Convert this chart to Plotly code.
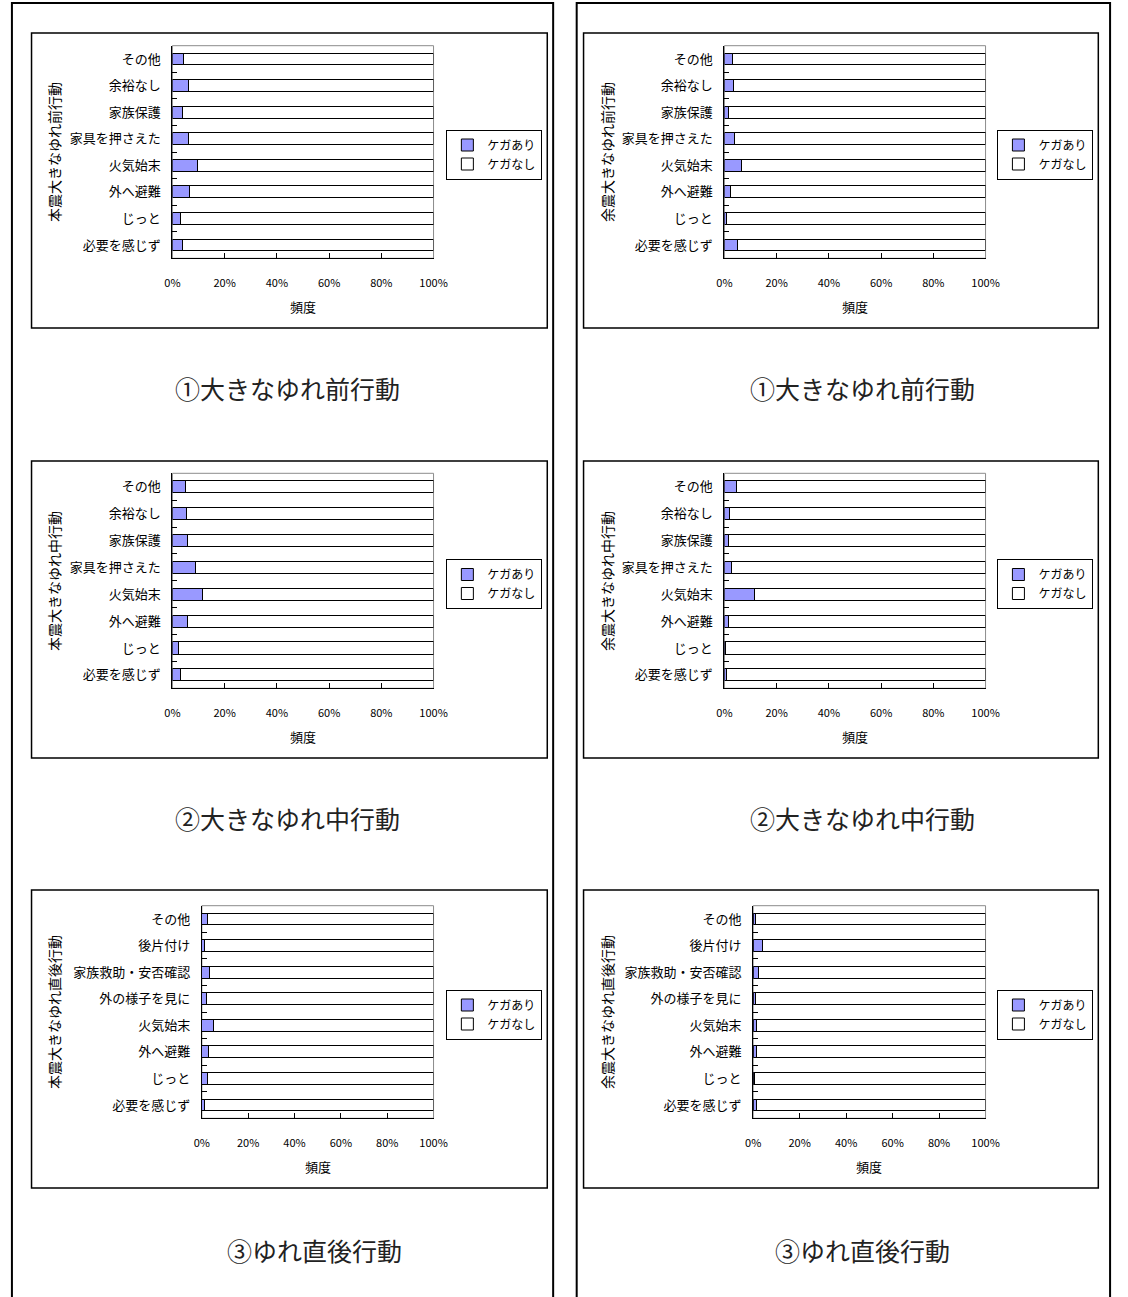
import plotly.graph_objects as go

W, H = 1128, 1297

# ---------------- data ----------------
cats_pre = ["その他", "余裕なし", "家族保護", "家具を押さえた", "火気始末", "外へ避難", "じっと", "必要を感じず"]
cats_mid = ["その他", "余裕なし", "家族保護", "家具を押さえた", "火気始末", "外へ避難", "じっと", "必要を感じず"]
cats_post = ["その他", "後片付け", "家族救助・安否確認", "外の様子を見に", "火気始末", "外へ避難", "じっと", "必要を感じず"]

main_pre_ari = [4.3, 6.1, 3.9, 6.1, 9.6, 6.6, 3.2, 3.9]
main_pre_nashi = [95.7, 93.9, 96.1, 93.9, 90.4, 93.4, 96.8, 96.1]
after_pre_ari = [2.9, 3.3, 1.5, 3.8, 6.6, 2.5, 0.6, 5.1]
after_pre_nashi = [97.1, 96.7, 98.5, 96.2, 93.4, 97.5, 99.4, 94.9]
main_mid_ari = [4.9, 5.2, 5.6, 8.9, 11.6, 5.6, 2.5, 3.1]
main_mid_nashi = [95.1, 94.8, 94.4, 91.1, 88.4, 94.4, 97.5, 96.9]
after_mid_ari = [4.6, 2.0, 1.5, 2.8, 11.4, 1.5, 0.4, 0.6]
after_mid_nashi = [95.4, 98.0, 98.5, 97.2, 88.6, 98.5, 99.6, 99.4]
main_post_ari = [2.4, 1.3, 3.2, 1.8, 4.9, 2.8, 2.4, 1.1]
main_post_nashi = [97.6, 98.7, 96.8, 98.2, 95.1, 97.2, 97.6, 98.9]
after_post_ari = [1.0, 3.9, 2.4, 1.1, 1.5, 1.5, 0.4, 1.4]
after_post_nashi = [99.0, 96.1, 97.6, 98.9, 98.5, 98.5, 99.6, 98.6]

series_names = ["ケガあり", "ケガなし"]
x_tickvals = [0, 20, 40, 60, 80, 100]
x_ticktext = ["0%", "20%", "40%", "60%", "80%", "100%"]
x_title = "頻度"
y_titles = ["本震大きなゆれ前行動", "余震大きなゆれ前行動",
            "本震大きなゆれ中行動", "余震大きなゆれ中行動",
            "本震大きなゆれ直後行動", "余震大きなゆれ直後行動"]
captions = ["①大きなゆれ前行動", "①大きなゆれ前行動",
            "②大きなゆれ中行動", "②大きなゆれ中行動",
            "③ゆれ直後行動", "③ゆれ直後行動"]

panels = [
    (cats_pre, main_pre_ari, main_pre_nashi),
    (cats_pre, after_pre_ari, after_pre_nashi),
    (cats_mid, main_mid_ari, main_mid_nashi),
    (cats_mid, after_mid_ari, after_mid_nashi),
    (cats_post, main_post_ari, main_post_nashi),
    (cats_post, after_post_ari, after_post_nashi),
]

# ---------------- layout geometry (pixels) ----------------
FONT = "Noto Sans CJK JP"
ARI = "#9999FF"

def fx(px):
    return px / W

def fy(py):
    return 1 - py / H

plot_x = [(167.7, 434), (730.7, 997), (167.7, 434), (730.7, 997), (197.7, 434), (760, 997)]
plot_y = [(45.7, 258.3), (45.7, 258.3), (473.3, 688.3), (473.3, 688.3), (905.7, 1118.3), (905.7, 1118.3)]
inner_x = [(24, 550), (587, 1112)]
inner_y = [(33, 328), (461, 758), (890, 1188)]
outer_x = [(4, 556), (580, 1124)]
ytitle_x = [47, 611]
legend_right = [545, 1107]
legend_cy = [154.5, 584, 1014.5]
caption_x = [285, 871, 285, 871, 313, 871]
caption_y = [388, 388, 818, 818, 1250, 1250]

fig = go.Figure()
layout = dict(
    width=W, height=H,
    margin=dict(l=0, r=0, t=0, b=0),
    paper_bgcolor="white", plot_bgcolor="white",
    barmode="stack", bargap=0.55,
    font=dict(family=FONT, size=12, color="black"),
    showlegend=True,
)

shapes = []
annotations = []

for i, (cats, ari, nashi) in enumerate(panels):
    n = i + 1
    sfx = "" if n == 1 else str(n)
    xa, ya = "x" + sfx, "y" + sfx
    lg = "legend" + sfx
    col = i % 2
    row = i // 2

    fig.add_trace(go.Bar(
        y=cats, x=ari, name=series_names[0], orientation="h",
        marker=dict(color=ARI, line=dict(color="black", width=1)),
        xaxis=xa, yaxis=ya, legend=lg, hoverinfo="x+y",
    ))
    fig.add_trace(go.Bar(
        y=cats, x=nashi, name=series_names[1], orientation="h",
        marker=dict(color="white", line=dict(color="black", width=1)),
        xaxis=xa, yaxis=ya, legend=lg, hoverinfo="x+y",
    ))

    x0, x1 = plot_x[i]
    y0, y1 = plot_y[i]
    layout["xaxis" + sfx] = dict(
        domain=[fx(x0), fx(x1)], anchor=ya, range=[0, 100],
        tickmode="array", tickvals=x_tickvals, ticktext=x_ticktext,
        ticks="inside", ticklen=5,
        tickcolor="black", showline=True, linecolor="black", linewidth=1,
        showgrid=False, zeroline=False, fixedrange=True,
        tickfont=dict(family=FONT, size=11, color="black"),
        ticklabelstandoff=14,
    )
    layout["yaxis" + sfx] = dict(
        domain=[fy(y1), fy(y0)], anchor=xa, type="category",
        categoryorder="array", categoryarray=cats, autorange="reversed",
        tickson="boundaries", ticks="inside", ticklen=5, tickcolor="black",
        showline=True, linecolor="black", linewidth=1, showgrid=False,
        zeroline=False, fixedrange=True,
        tickfont=dict(family=FONT, size=13, color="black"),
        ticklabelstandoff=8,
    )
    layout[lg] = dict(
        x=fx(legend_right[col]), xanchor="right",
        y=fy(legend_cy[row]), yanchor="middle",
        bgcolor="white", bordercolor="black", borderwidth=1,
        font=dict(family=FONT, size=12, color="black"),
        traceorder="normal", itemwidth=30, tracegroupgap=0,
    )

    # gray plot-area border (top/right)
    shapes.append(dict(type="rect", xref=xa + " domain", yref=ya + " domain",
                       x0=0, x1=1, y0=0, y1=1, line=dict(color="#8c8c8c", width=1),
                       layer="below"))
    # y-axis title
    annotations.append(dict(
        text=y_titles[i], textangle=-90, showarrow=False,
        xref="paper", yref="paper", x=fx(ytitle_x[col]), y=fy((y0 + y1) / 2),
        xanchor="center", yanchor="middle",
        font=dict(family=FONT, size=14, color="black"),
    ))
    # x-axis title
    annotations.append(dict(
        text=x_title, showarrow=False,
        xref="paper", yref="paper", x=fx((x0 + x1) / 2), y=fy(y1 + 48),
        xanchor="center", yanchor="middle",
        font=dict(family=FONT, size=13, color="black"),
    ))
    # caption below chart
    annotations.append(dict(
        text=captions[i], showarrow=False,
        xref="paper", yref="paper", x=fx(caption_x[i]), y=fy(caption_y[i]),
        xanchor="center", yanchor="middle",
        font=dict(family=FONT, size=25, color="#222222"),
    ))
    # inner chart box
    ix0, ix1 = inner_x[col]
    iy0, iy1 = inner_y[row]
    shapes.append(dict(type="rect", xref="paper", yref="paper",
                       x0=fx(ix0), x1=fx(ix1), y0=fy(iy1), y1=fy(iy0),
                       line=dict(color="black", width=1.5), layer="below"))

# outer frames (open at bottom, extend beyond page)
for ox0, ox1 in outer_x:
    shapes.append(dict(type="rect", xref="paper", yref="paper",
                       x0=fx(ox0), x1=fx(ox1), y0=-0.02, y1=fy(3),
                       line=dict(color="black", width=2), layer="below"))

layout["shapes"] = shapes
layout["annotations"] = annotations
fig.update_layout(**layout)

fig.write_html("out.html")
